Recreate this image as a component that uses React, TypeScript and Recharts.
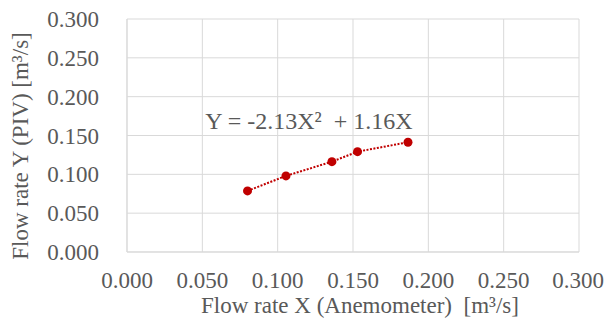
import { ComposedChart, Line, XAxis, YAxis, CartesianGrid } from 'recharts';

// Measured flow rates (m³/s)
const anemometerX = [0.080, 0.1055, 0.136, 0.153, 0.1865];
const pivY = [0.0787, 0.098, 0.1163, 0.1292, 0.1413];
const axisTicks = [0, 0.05, 0.1, 0.15, 0.2, 0.25, 0.3];
const equationLabel = 'Y = -2.13X\u00b2  + 1.16X';
const xTitle = 'Flow rate X (Anemometer)  [m\u00b3/s]';
const yTitle = 'Flow rate Y (PIV) [m\u00b3/s]';

const data = anemometerX.map((x, i) => ({ x, y: pivY[i] }));

const FONT = '"Liberation Serif", "Times New Roman", serif';
const TEXT = '#595959';
const GRID = '#d9d9d9';
const RED = '#c00000';

const App = () => {
  const fmt = (v: number) => v.toFixed(3);
  return (
    <div style={{ position: 'absolute', left: 0, top: 0, width: 604, height: 322, background: '#fff' }}>
      <ComposedChart
        width={604}
        height={322}
        data={data}
        margin={{ top: 19, right: 25, left: 0, bottom: 0 }}
        style={{ fontFamily: FONT }}
      >
        <CartesianGrid stroke={GRID} strokeWidth={1} />
        <XAxis
          type="number"
          dataKey="x"
          domain={[0, 0.3]}
          ticks={axisTicks}
          tickFormatter={fmt}
          height={70}
          tickLine={false}
          tickMargin={14}
          axisLine={{ stroke: GRID }}
          tick={{ fill: TEXT, fontSize: 23, fontFamily: FONT }}
        />
        <YAxis
          type="number"
          domain={[0, 0.3]}
          ticks={axisTicks}
          tickFormatter={fmt}
          width={127}
          tickLine={false}
          tickMargin={22}
          axisLine={{ stroke: GRID }}
          tick={{ fill: TEXT, fontSize: 23, fontFamily: FONT }}
        />
        <Line
          type="linear"
          dataKey="y"
          stroke={RED}
          strokeWidth={2}
          strokeDasharray="2 1.5"
          dot={{ r: 4.5, fill: RED, stroke: 'none' }}
          activeDot={false}
          isAnimationActive={false}
        />
      </ComposedChart>
      {/* axis titles and trendline equation */}
      <svg width={604} height={322} style={{ position: 'absolute', left: 0, top: 0, pointerEvents: 'none' }}>
        <text x={309} y={129} textAnchor="middle" fill={TEXT} fontSize={24} fontFamily={FONT} style={{ whiteSpace: 'pre' }}>
          {equationLabel}
        </text>
        <text x={360} y={313} textAnchor="middle" fill={TEXT} fontSize={23} fontFamily={FONT} style={{ whiteSpace: 'pre' }}>
          {xTitle}
        </text>
        <text
          x={0}
          y={0}
          textAnchor="middle"
          fill={TEXT}
          fontSize={23}
          fontFamily={FONT}
          transform="translate(28, 146) rotate(-90)"
          style={{ whiteSpace: 'pre' }}
        >
          {yTitle}
        </text>
      </svg>
    </div>
  );
};

export default App;
